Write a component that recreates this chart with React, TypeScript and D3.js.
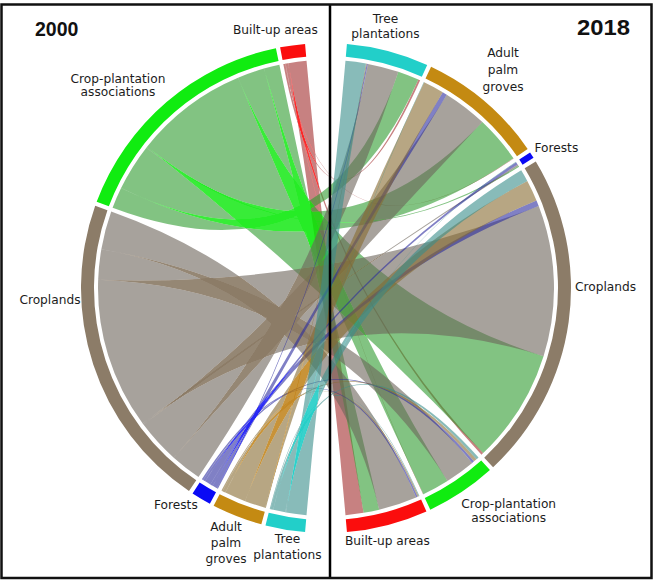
import React from 'react';
import * as d3 from 'd3';

// Land-cover classes, in matrix order (rows = 2000, columns = 2018)
const categories = [
  'Built-up areas',
  'Crop-plantation associations',
  'Croplands',
  'Forests',
  'Adult palm groves',
  'Tree plantations',
];
const years = ['2000', '2018'];

// Area changing from each 2000 class (row) into each 2018 class (column)
const fromBuiltUp = [4.6, 0.1, 0.6, 0.0, 0.1, 0.5];
const fromCropPlantation = [4.0, 6.9, 29.0, 0.3, 12.0, 5.4];
const fromCroplands = [9.8, 7.7, 38.5, 0.4, 11.3, 7.9];
const fromForests = [0.4, 0.6, 1.5, 0.7, 1.2, 0.3];
const fromPalmGroves = [0.3, 0.8, 5.4, 0.0, 5.3, 0.2];
const fromTreePlantations = [0.2, 0.7, 3.1, 0.1, 0.1, 5.2];

const flows = [
  fromBuiltUp,
  fromCropPlantation,
  fromCroplands,
  fromForests,
  fromPalmGroves,
  fromTreePlantations,
];

// Sector colours
const sectorColors = ['#fb0d0d', '#10ec10', '#8c7c68', '#0a0af5', '#c48a12', '#22cfc9'];

// Label lines for each class
const labelLines = [
  ['Built-up areas'],
  ['Crop-plantation', 'associations'],
  ['Croplands'],
  ['Forests'],
  ['Adult', 'palm', 'groves'],
  ['Tree', 'plantations'],
];

// Label placement: [year index][class index] -> x, baseline y, anchor, line height
const labelPlacement = [
  [
    { x: 233, y: 34, anchor: 'start', lh: 13 },
    { x: 118, y: 82.5, anchor: 'middle', lh: 13.2 },
    { x: 80.5, y: 304, anchor: 'end', lh: 13 },
    { x: 154, y: 509, anchor: 'start', lh: 13 },
    { x: 226, y: 530.5, anchor: 'middle', lh: 16 },
    { x: 287.5, y: 543, anchor: 'middle', lh: 15.5 },
  ],
  [
    { x: 345, y: 545, anchor: 'start', lh: 13 },
    { x: 508.7, y: 508.3, anchor: 'middle', lh: 13.4 },
    { x: 575, y: 290.5, anchor: 'start', lh: 13 },
    { x: 534.5, y: 151.5, anchor: 'start', lh: 13 },
    { x: 503, y: 56.7, anchor: 'middle', lh: 17 },
    { x: 385.5, y: 22.7, anchor: 'middle', lh: 15.6 },
  ],
];

const W = 654;
const H = 580;
const cx = 326;
const cy = 288;
const rOuter = 245;
const rInner = 232;
const rLink = 228;
const bigGap = (9.8 * Math.PI) / 180;
const smallGap = (1.0 * Math.PI) / 180;

type Sector = { year: number; cat: number; value: number; start: number; end: number };

function buildLayout() {
  const n = categories.length;
  const rowTotals = flows.map((r) => d3.sum(r));
  const colTotals = categories.map((_, j) => d3.sum(flows, (r) => r[j]));
  const total = d3.sum(rowTotals) + d3.sum(colTotals);
  const k = (2 * Math.PI - 2 * bigGap - 2 * (n - 1) * smallGap) / total;

  // Each half runs clockwise from Tree plantations to Built-up areas
  const order = d3.range(n).reverse();
  const sectors: Sector[][] = [[], []];
  [1, 0].forEach((year) => {
    let a = year === 1 ? bigGap / 2 : Math.PI + bigGap / 2;
    const totals = year === 0 ? rowTotals : colTotals;
    order.forEach((cat, idx) => {
      const v = totals[cat];
      sectors[year][cat] = { year, cat, value: v, start: a, end: a + v * k };
      a += v * k + (idx < n - 1 ? smallGap : 0);
    });
  });

  // Links are stacked from each sector's end, in matrix order
  const srcCursor = sectors[0].map((s) => s.end);
  const tgtCursor = sectors[1].map((s) => s.end);
  const srcPos: Record<string, [number, number]> = {};
  const tgtPos: Record<string, [number, number]> = {};
  for (let i = 0; i < n; i++) {
    for (let j = 0; j < n; j++) {
      const w = flows[i][j] * k;
      srcPos[`${i}-${j}`] = [srcCursor[i] - w, srcCursor[i]];
      srcCursor[i] -= w;
    }
  }
  for (let j = 0; j < n; j++) {
    for (let i = 0; i < n; i++) {
      const w = flows[i][j] * k;
      tgtPos[`${i}-${j}`] = [tgtCursor[j] - w, tgtCursor[j]];
      tgtCursor[j] -= w;
    }
  }
  const links: { i: number; j: number; source: any; target: any }[] = [];
  for (let i = 0; i < n; i++) {
    for (let j = 0; j < n; j++) {
      if (flows[i][j] <= 0) continue;
      const s = srcPos[`${i}-${j}`];
      const t = tgtPos[`${i}-${j}`];
      links.push({
        i,
        j,
        source: { startAngle: s[0], endAngle: s[1], radius: rLink },
        target: { startAngle: t[0], endAngle: t[1], radius: rLink },
      });
    }
  }
  return { sectors, links };
}

// Link fills: a greyed tone where one link lies alone, the full class colour where links of a class overlap
function linkTones(hex: string) {
  const c = d3.rgb(hex);
  const clamp = (v: number) => Math.max(0, Math.min(255, v));
  const muted = [c.r, c.g, c.b].map((v) => 0.295 * v + 125.3);
  const single = d3.rgb(...(muted.map((v) => clamp((v - 0.4 * 255) / 0.6)) as [number, number, number]));
  const multi = d3.rgb(...([c.r, c.g, c.b].map((v) => clamp((v - 0.15 * 255) / 0.85)) as [number, number, number]));
  return { single: single.formatHex(), multi: multi.formatHex() };
}

export default function App() {
  const { sectors, links } = buildLayout();
  const ribbon = d3.ribbon<any, any>().radius(rLink);
  const arc = d3
    .arc<any>()
    .innerRadius(rInner)
    .outerRadius(rOuter)
    .startAngle((d: Sector) => d.start)
    .endAngle((d: Sector) => d.end);

  const font = "'DejaVu Sans', Verdana, sans-serif";
  const groups = d3.range(categories.length).map((i) => links.filter((l) => l.i === i));

  return (
    <svg
      width={W}
      height={H}
      viewBox={`0 0 ${W} ${H}`}
      style={{ position: 'absolute', left: 0, top: 0, background: '#fff' }}
    >
      <defs>
        {sectorColors.map((col, i) => {
          const t = linkTones(col);
          return (
            <filter
              key={i}
              id={`links${i}`}
              filterUnits="userSpaceOnUse"
              x={-300}
              y={-300}
              width={600}
              height={600}
              colorInterpolationFilters="sRGB"
            >
              <feComponentTransfer in="SourceAlpha" result="one">
                <feFuncA type="table" tableValues="0 0.25 0.5 0.75 1 0.6 0.15 0 0 0 0" />
              </feComponentTransfer>
              <feComponentTransfer in="SourceAlpha" result="many">
                <feFuncA type="table" tableValues="0 0 0 0 0 0.4 0.85 1 1 1 1" />
              </feComponentTransfer>
              <feFlood floodColor={t.single} floodOpacity={0.6} result="c1" />
              <feComposite in="c1" in2="one" operator="in" result="p1" />
              <feFlood floodColor={t.multi} floodOpacity={0.85} result="c2" />
              <feComposite in="c2" in2="many" operator="in" result="p2" />
              <feMerge>
                <feMergeNode in="p1" />
                <feMergeNode in="p2" />
              </feMerge>
            </filter>
          );
        })}
      </defs>
      <rect width={W} height={H} fill="#fff" />
      <g transform={`translate(${cx},${cy})`}>
        {groups.map((g, gi) => (
          <g key={`g${gi}`} filter={`url(#links${gi})`}>
            {g.map((l, idx) => (
              <path key={idx} d={ribbon(l) as string} fill="#000" fillOpacity={0.4} stroke="none" />
            ))}
          </g>
        ))}
        {sectors.flat().map((s, idx) => (
          <path key={`s${idx}`} d={arc(s) as string} fill={sectorColors[s.cat]} />
        ))}
      </g>
      <line x1={330} x2={330} y1={4} y2={578} stroke="#000" strokeWidth={2.5} />
      <rect x={1.5} y={4.5} width={650} height={573.5} fill="none" stroke="#111" strokeWidth={2.5} />
      <text x={35} y={35.5} fontFamily="'Liberation Sans', Arial, sans-serif" fontWeight="bold" fontSize={19.5} fill="#111">
        {years[0]}
      </text>
      <text
        x={577}
        y={35}
        fontFamily="'Liberation Sans', Arial, sans-serif"
        fontWeight="bold"
        fontSize={22}
        textLength={53}
        lengthAdjust="spacingAndGlyphs"
        fill="#111"
      >
        {years[1]}
      </text>
      {labelPlacement.map((row, year) =>
        row.map((p, cat) => (
          <text
            key={`${year}-${cat}`}
            x={p.x}
            y={p.y}
            textAnchor={p.anchor as any}
            fontFamily={font}
            fontSize={12.2}
            fill="#1c1c1c"
          >
            {labelLines[cat].map((line, li) => (
              <tspan key={li} x={p.x} dy={li === 0 ? 0 : p.lh}>
                {line}
              </tspan>
            ))}
          </text>
        ))
      )}
    </svg>
  );
}
